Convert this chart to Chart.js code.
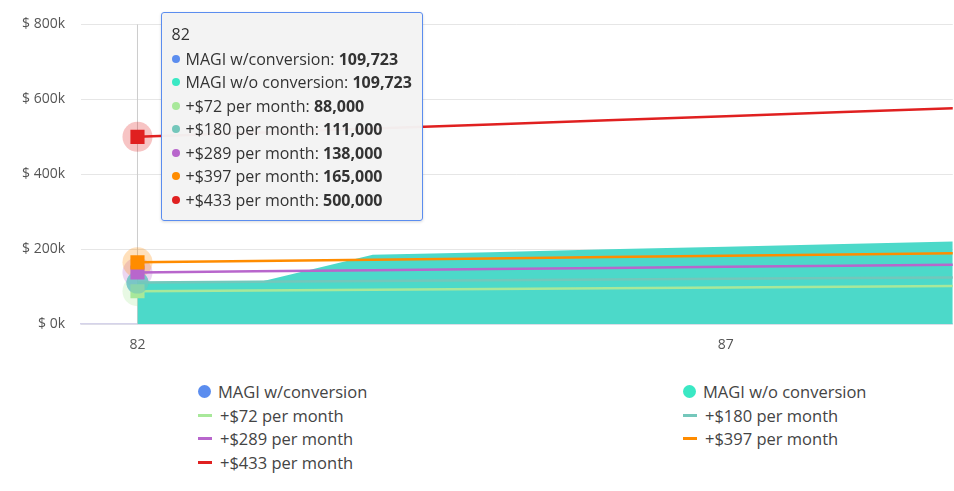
<!DOCTYPE html>
<html><head><meta charset="utf-8">
<script src="https://cdn.jsdelivr.net/npm/chart.js@4"></script>
<style>
body{margin:0;background:#fff;font-family:"Open Sans",sans-serif;}
#wrap{position:relative;width:954px;height:365px;}
#tt{position:absolute;background:rgba(243,243,243,0.97);border:1px solid #5b8def;border-radius:3px;padding:10px 10px 8px 10px;font-size:16px;color:#333;line-height:23.5px;pointer-events:none;white-space:nowrap;box-shadow:0 1px 3px rgba(0,0,0,0.15);}
#tt .d{display:inline-block;width:8px;height:8px;border-radius:50%;margin-right:6px;vertical-align:middle;position:relative;top:-2px}
#legend{position:absolute;top:380px;left:198px;width:720px;display:grid;grid-template-columns:485px 235px;font-size:16.5px;color:#444;row-gap:0px}
#legend div{line-height:23.5px}
.ld{display:inline-block;width:13px;height:13px;border-radius:50%;margin-right:7px;vertical-align:middle;position:relative;top:-2px}
.ll{display:inline-block;width:14px;height:3px;margin-right:8px;vertical-align:middle;position:relative;top:-2px}
</style></head><body>
<div id="wrap"><canvas id="c"></canvas><div id="tt"></div></div>
<div id="legend"></div>
<script>
const ages=[82,83,84,85,86,87,88,89];
const xTicks=[82,87];
const yTicks=[0,200000,400000,600000,800000];
const magiWith=[109723,110000,185000,192000,200000,207000,214000,221000];
const magiWithout=[109723,110000,185000,192000,200000,207000,214000,221000];
const plus72=[88000,90000,92000,94000,96000,98000,100000,102000];
const plus180=[111000,113000,115000,117000,119000,121000,123000,125000];
const plus289=[138000,141000,144000,147000,150000,153000,156000,159000];
const plus397=[165000,168500,172000,175500,179000,182500,186000,189500];
const plus433=[500000,511000,522000,533000,544000,555000,566000,577000];
const pts=a=>a.map((v,i)=>({x:ages[i],y:v}));
function ds(label,data,color,opt){return Object.assign({label,data:pts(data),borderColor:color,backgroundColor:color,borderWidth:2.5,pointRadius:0,pointHoverRadius:10,pointStyle:'rect',pointHoverBorderWidth:0,pointHoverBackgroundColor:color,tension:0,fill:false},opt||{});}
const datasets=[
 ds('MAGI w/conversion',magiWith,'#5b8def',{borderWidth:0,pointStyle:'circle',pointHoverBackgroundColor:'#5b8def66',pointHoverRadius:11,order:8}),
 ds('MAGI w/o conversion',magiWithout,'#3ae8c4',{fill:'origin',backgroundColor:'#4cd9c9',borderColor:'#4cd9c9',borderWidth:0,pointStyle:'circle',pointHoverBackgroundColor:'#4cd9c966',pointHoverRadius:11,order:7}),
 ds('+$72 per month',plus72,'#a8e89a',{order:6}),
 ds('+$180 per month',plus180,'#74c7bb',{pointStyle:'circle',pointHoverBackgroundColor:'#74c7bb99',pointHoverRadius:11,order:5}),
 ds('+$289 per month',plus289,'#b866cc',{order:4}),
 ds('+$397 per month',plus397,'#ff8c00',{order:3}),
 ds('+$433 per month',plus433,'#e02020',{order:2})
];
const legendColors=['#5b8def','#3ae8c4','#a8e89a','#74c7bb','#b866cc','#ff8c00','#e02020'];
const tt=document.getElementById('tt');
function external(ctx){
 const m=ctx.tooltip;
 if(m.opacity===0){tt.style.display='none';return;}
 tt.style.display='block';
 let h='<div style="margin-bottom:1px">'+m.title[0]+'</div>';
 m.dataPoints.forEach(p=>{h+='<div><span class="d" style="background:'+legendColors[p.datasetIndex]+'"></span>'+p.dataset.label+': <b>'+p.parsed.y.toLocaleString('en-US')+'</b></div>';});
 tt.innerHTML=h;
 tt.style.left=(m.caretX+23)+'px';
 tt.style.top=(ctx.chart.chartArea.top-12)+'px';
}
const crosshair={id:'ch',
 beforeDatasetsDraw(c){const a=c.getActiveElements();if(!a.length)return;const x=a[0].element.x;const g=c.ctx;g.save();g.strokeStyle='#ccc';g.lineWidth=1;g.beginPath();g.moveTo(x,c.chartArea.top);g.lineTo(x,c.chartArea.bottom);g.stroke();
  a.forEach(e=>{if(e.datasetIndex>=2&&e.datasetIndex!==3){g.fillStyle=legendColors[e.datasetIndex]+'44';g.beginPath();g.arc(e.element.x,e.element.y,15,0,Math.PI*2);g.fill();}});
  g.restore();}};
const chart=new Chart(document.getElementById('c'),{type:'line',data:{datasets},plugins:[crosshair],
 options:{responsive:true,maintainAspectRatio:false,animation:false,
  layout:{padding:{top:22,right:0,left:6}},
  interaction:{mode:'x',intersect:false},
  plugins:{legend:{display:false},tooltip:{enabled:false,external,itemSort:(a,b)=>a.datasetIndex-b.datasetIndex,callbacks:{title:i=>String(i[0].parsed.x)}}},
  scales:{
   x:{type:'linear',min:81.52,max:88.93,afterBuildTicks:s=>{s.ticks=xTicks.map(v=>({value:v}));},
      grid:{display:false,drawTicks:false},border:{color:'#d5d3ea',width:1.5},
      ticks:{color:'#555',font:{family:'Open Sans',size:14},padding:12}},
   y:{min:0,max:800000,afterBuildTicks:s=>{s.ticks=yTicks.map(v=>({value:v}));},
      grid:{color:'#e6e6e6',drawTicks:false},border:{display:false},
      ticks:{color:'#555',font:{family:'Open Sans',size:14},padding:16,callback:v=>'$ '+(v/1000)+'k'}}
  }}});
const act=datasets.map((d,i)=>({datasetIndex:i,index:0}));
chart.setActiveElements(act);
chart.tooltip.setActiveElements(act,{x:chart.scales.x.getPixelForValue(82),y:150});
chart.update();
const lg=document.getElementById('legend');
datasets.forEach((d,i)=>{const dot=i<2;lg.innerHTML+='<div>'+(dot?'<span class="ld" style="background:'+legendColors[i]+'"></span>':'<span class="ll" style="background:'+legendColors[i]+'"></span>')+d.label+'</div>';});
</script></body></html>
